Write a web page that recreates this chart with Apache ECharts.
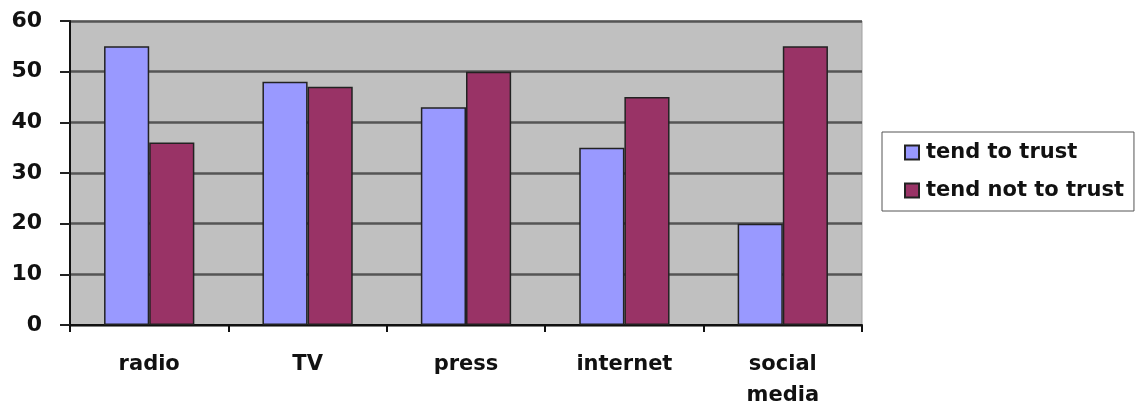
<!DOCTYPE html>
<html>
<head>
<meta charset="utf-8">
<script src="https://cdn.jsdelivr.net/npm/echarts@6/dist/echarts.min.js"></script>
<style>
  html, body { margin: 0; padding: 0; background: #fff; }
  #chart { width: 1140px; height: 403px; }
</style>
</head>
<body>
<div id="chart"></div>
<script>
const categories = ['radio', 'TV', 'press', 'internet', 'social\nmedia'];
const trustValues = [55, 48, 43, 35, 20];
const notTrustValues = [36, 47, 50, 45, 55];
const seriesNames = ['tend to trust', 'tend not to trust'];

const chart = echarts.init(document.getElementById('chart'));
const barBorder = { borderColor: '#222', borderWidth: 1.5 };

chart.setOption({
    animation: false,
    textStyle: { fontFamily: 'DejaVu Sans' },
    grid: {
        left: 70,
        top: 21,
        width: 792,
        height: 304,
        outerBoundsMode: 'none',
        containLabel: false,
        show: true,
        backgroundColor: '#c0c0c0',
        borderColor: '#a0a0a0',
        borderWidth: 1
    },
    legend: {
        orient: 'vertical',
        left: 882,
        top: 132,
        padding: [10, 10, 10, 22],
        itemGap: 17,
        itemWidth: 14,
        itemHeight: 14,
        icon: 'rect',
        backgroundColor: '#fff',
        borderColor: '#555',
        borderWidth: 1,
        data: seriesNames,
        textStyle: { fontSize: 21, fontWeight: 'bold', color: '#111', padding: [0, 0, 0, 2] }
    },
    xAxis: {
        type: 'category',
        data: categories,
        axisLine: { lineStyle: { color: '#111', width: 2 } },
        axisTick: { show: true, length: 7, lineStyle: { color: '#111', width: 2 } },
        axisLabel: {
            color: '#111',
            fontSize: 21,
            fontWeight: 'bold',
            margin: 24,
            lineHeight: 31
        }
    },
    yAxis: {
        type: 'value',
        min: 0,
        max: 60,
        interval: 10,
        axisLine: { show: true, lineStyle: { color: '#111', width: 2 } },
        axisTick: { show: true, length: 10, lineStyle: { color: '#222', width: 2 } },
        splitLine: { lineStyle: { color: '#555', width: 2.5 } },
        axisLabel: { color: '#111', fontSize: 22, fontWeight: 'bold', margin: 28 }
    },
    series: [
        {
            name: seriesNames[0],
            type: 'bar',
            data: trustValues,
            barGap: '0%',
            barCategoryGap: '43%',
            itemStyle: Object.assign({ color: '#9999ff' }, barBorder)
        },
        {
            name: seriesNames[1],
            type: 'bar',
            data: notTrustValues,
            barGap: '0%',
            barCategoryGap: '43%',
            itemStyle: Object.assign({ color: '#993366' }, barBorder)
        }
    ]
});
</script>
</body>
</html>
